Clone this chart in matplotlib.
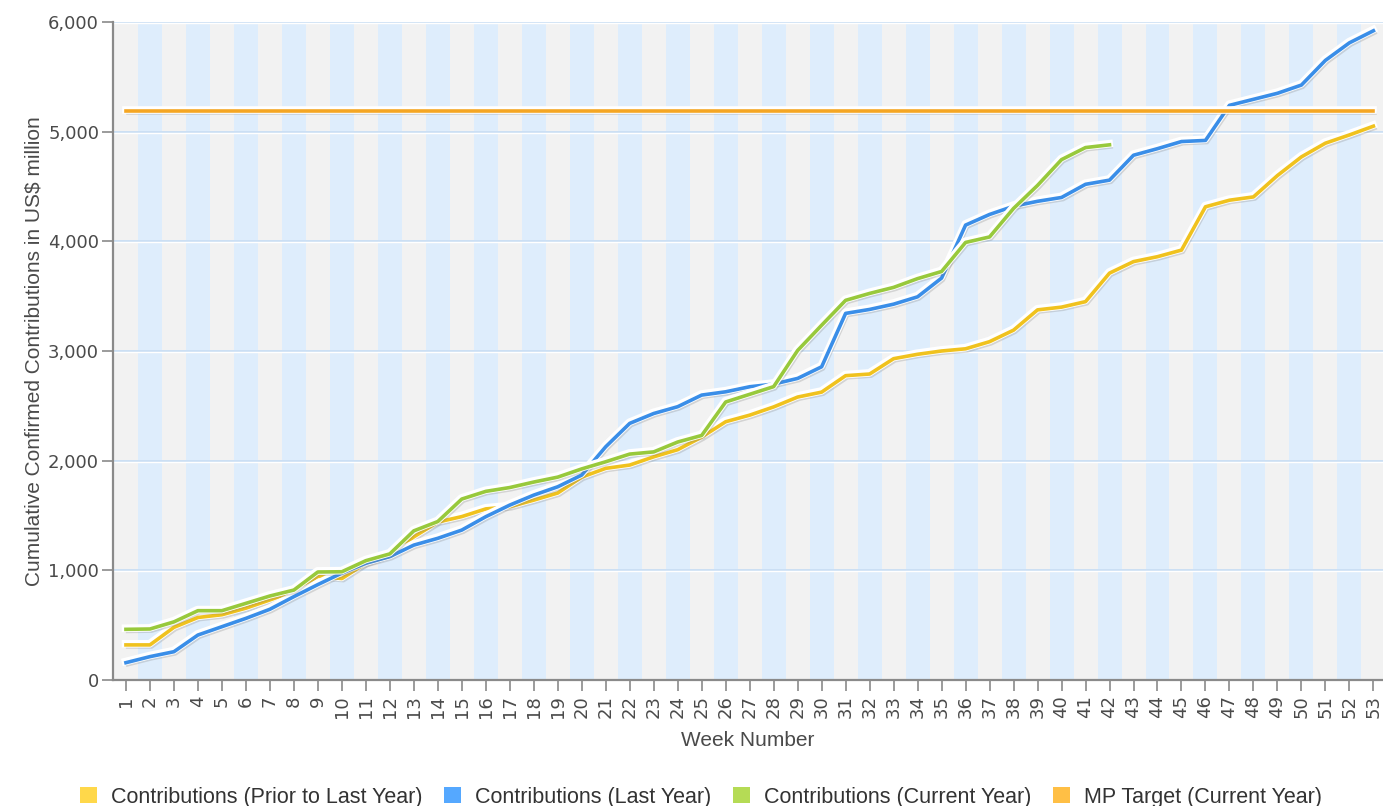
import matplotlib
matplotlib.use("Agg")
import matplotlib.pyplot as plt
import matplotlib.patheffects as pe
from matplotlib.patches import Patch

weeks = list(range(1, 54))

prior_year = [320, 320, 480, 570, 595, 655, 730, 810, 945, 925,
              1065, 1145, 1305, 1440, 1490, 1560, 1580, 1640, 1705, 1850,
              1930, 1960, 2035, 2100, 2215, 2355, 2415, 2490, 2580, 2625,
              2775, 2790, 2930, 2970, 3000, 3020, 3085, 3190, 3375, 3400,
              3450, 3710, 3815, 3860, 3920, 4315, 4375, 4405, 4600, 4770,
              4895, 4970, 5050]

last_year = [158, 213, 258, 410, 486, 562, 645, 760, 870, 975,
             1065, 1125, 1230, 1292, 1367, 1489, 1595, 1686, 1762, 1869,
             2127, 2340, 2430, 2492, 2598, 2628, 2674, 2698, 2750, 2856,
             3343, 3379, 3427, 3494, 3665, 4148, 4245, 4320, 4365, 4400,
             4520, 4558, 4785, 4845, 4910, 4920, 5240, 5295, 5350, 5425,
             5650, 5810, 5920]

current_year = [462, 465, 530, 632, 632, 699, 766, 820, 985, 987,
                1088, 1150, 1360, 1445, 1650, 1720, 1755, 1805, 1850, 1925,
                1990, 2060, 2080, 2170, 2230, 2535, 2605, 2675, 3005, 3235,
                3462, 3525, 3580, 3660, 3725, 3990, 4040, 4300, 4510, 4745,
                4855, 4880]

target = [5185] * len(weeks)

series_names = ["Contributions (Prior to Last Year)", "Contributions (Last Year)",
                "Contributions (Current Year)", "MP Target (Current Year)"]
line_colors = ["#f0c21e", "#3a8ee8", "#98c93c", "#f5a623"]
legend_colors = ["#ffd84a", "#55a8ff", "#b5db55", "#ffbf45"]

fig = plt.figure(figsize=(13.83, 8.06), dpi=100)
ax = fig.add_axes([113 / 1383, 1 - 680 / 806, 1 - 113 / 1383, (680 - 22) / 806])
ax.set_facecolor("#f2f2f2")

# alternating week bands
for w in weeks:
    if w % 2 == 0:
        ax.axvspan(w - 0.5, w + 0.5, color="#deedfc", lw=0, zorder=0)

ax.set_xlim(0.46, 53.4)
ax.set_ylim(0, 6000)
yticks = [0, 1000, 2000, 3000, 4000, 5000, 6000]
ax.set_yticks(yticks)
ax.set_yticklabels([f"{v:,}" for v in yticks])
for v in yticks[1:]:
    ax.axhline(v, color="#c9def4", lw=1.3, zorder=1)
    ax.axhline(v - 9, color="white", lw=1.0, zorder=1)

ax.set_xticks(weeks)
ax.set_xticklabels([str(w) for w in weeks], rotation=90)

shadow = [pe.SimpleLineShadow(offset=(1.2, -1.5), shadow_color="#777777", alpha=0.25),
          pe.Stroke(linewidth=5.5, foreground="white", offset=(-0.3, 0.8)),
          pe.Normal()]

data = [prior_year, last_year, current_year, target]
for i, (vals, c) in enumerate(zip(data, line_colors)):
    ax.plot(weeks[:len(vals)], vals, color=c, lw=2.6, zorder=3 + i,
            solid_joinstyle="round", path_effects=shadow)

for s in ["top", "right"]:
    ax.spines[s].set_visible(False)
for s in ["left", "bottom"]:
    ax.spines[s].set_color("#8a8a8a")
    ax.spines[s].set_linewidth(1.6)

ax.tick_params(axis="both", colors="#8a8a8a", length=8, width=1.2,
               labelsize=13, labelcolor="#4a4a4a")
ax.tick_params(axis="x", pad=3)
ax.tick_params(axis="y", pad=2)

ax.set_xlabel("Week Number", fontsize=15, color="#4a4a4a",
              family="Liberation Sans", labelpad=9)
ax.set_ylabel("Cumulative Confirmed Contributions in US$ million", fontsize=15,
              color="#4a4a4a", family="Liberation Sans", labelpad=3)

handles = [Patch(facecolor=c, edgecolor="none") for c in legend_colors]
fig.legend(handles, series_names, loc="lower center", bbox_to_anchor=(0.507, -0.026),
           ncol=4, frameon=False, handlelength=0.8, handleheight=0.8,
           handletextpad=0.65, columnspacing=1.0,
           prop={"family": "Liberation Sans", "size": 15.5}, labelcolor="#333333")

fig.savefig("out.png", dpi=100)
